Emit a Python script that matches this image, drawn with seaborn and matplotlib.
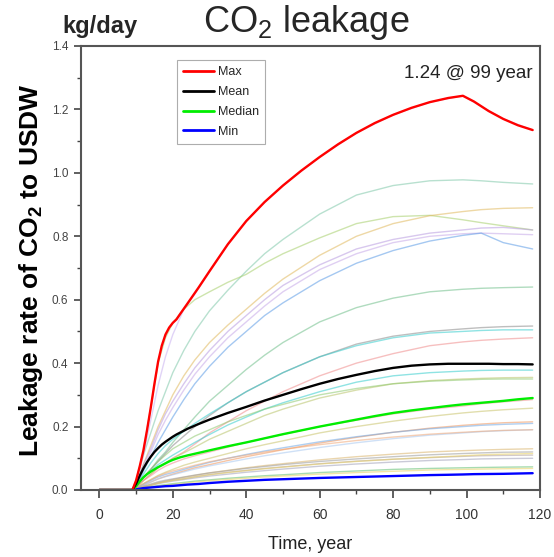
import numpy as np
import pandas as pd
import matplotlib
matplotlib.use("Agg")
import matplotlib.pyplot as plt
import seaborn as sns
from matplotlib.ticker import MultipleLocator, FormatStrFormatter

# ---------------- data ----------------
# summary statistics (dense time sampling)
time_main = [0, 9, 10, 11, 12, 13, 14, 15, 16, 17, 18, 19, 20, 21, 22, 24, 27, 30, 35, 40,
             45, 50, 55, 60, 65, 70, 75, 80, 85, 90, 95, 99, 102, 106, 110, 114, 118]

max_rate = [0, 0, 0.03, 0.075, 0.125, 0.19, 0.26, 0.335, 0.405, 0.455, 0.49, 0.512, 0.527, 0.538,
            0.555, 0.588, 0.638, 0.69, 0.775, 0.848, 0.908, 0.96, 1.007, 1.05, 1.09, 1.126,
            1.157, 1.183, 1.205, 1.223, 1.236, 1.243, 1.225, 1.195, 1.17, 1.15, 1.135]
mean_rate = [0, 0, 0.02, 0.045, 0.068, 0.088, 0.105, 0.12, 0.132, 0.143, 0.152, 0.16, 0.168, 0.175,
             0.181, 0.193, 0.208, 0.222, 0.243, 0.262, 0.282, 0.3, 0.318, 0.335, 0.35, 0.363,
             0.375, 0.385, 0.392, 0.396, 0.398, 0.398, 0.398, 0.398, 0.397, 0.397, 0.396]
median_rate = [0, 0, 0.012, 0.027, 0.04, 0.05, 0.058, 0.065, 0.072, 0.078, 0.084, 0.09, 0.095, 0.099,
               0.103, 0.109, 0.117, 0.125, 0.138, 0.15, 0.163, 0.176, 0.188, 0.2, 0.211, 0.222,
               0.233, 0.243, 0.251, 0.258, 0.265, 0.27, 0.273, 0.277, 0.281, 0.286, 0.29]
min_rate = [0, 0, 0.002, 0.004, 0.006, 0.007, 0.008, 0.009, 0.01, 0.011, 0.012, 0.0125, 0.013, 0.014,
            0.015, 0.017, 0.019, 0.022, 0.026, 0.029, 0.032, 0.034, 0.036, 0.038, 0.0395, 0.041,
            0.0425, 0.044, 0.0455, 0.047, 0.048, 0.049, 0.05, 0.0505, 0.051, 0.052, 0.053]

# individual realizations
time_runs = [0, 9, 10, 11, 12, 14, 16, 18, 20, 23, 26, 30, 35, 40, 45, 50, 60, 70, 80, 90, 99, 104, 110, 118]

run_01 = [0, 0, 0.03, 0.07, 0.11, 0.18, 0.25, 0.31, 0.37, 0.44, 0.50, 0.565, 0.63, 0.69, 0.745, 0.79, 0.87, 0.93, 0.96, 0.975, 0.978, 0.975, 0.97, 0.965]
run_02 = [0, 0, 0.03, 0.075, 0.125, 0.26, 0.40, 0.48, 0.527, 0.57, 0.60, 0.625, 0.655, 0.68, 0.715, 0.745, 0.795, 0.84, 0.862, 0.866, 0.852, 0.843, 0.833, 0.82]
run_03 = [0, 0, 0.02, 0.05, 0.08, 0.14, 0.20, 0.25, 0.30, 0.36, 0.41, 0.465, 0.52, 0.57, 0.62, 0.665, 0.74, 0.80, 0.84, 0.865, 0.878, 0.884, 0.888, 0.89]
run_04 = [0, 0, 0.02, 0.05, 0.08, 0.13, 0.19, 0.24, 0.28, 0.335, 0.385, 0.44, 0.50, 0.55, 0.60, 0.645, 0.71, 0.76, 0.79, 0.81, 0.82, 0.826, 0.828, 0.82]
run_05 = [0, 0, 0.02, 0.045, 0.07, 0.12, 0.175, 0.22, 0.26, 0.315, 0.365, 0.42, 0.48, 0.53, 0.58, 0.625, 0.695, 0.745, 0.78, 0.80, 0.808, 0.81, 0.808, 0.805]
run_06 = [0, 0, 0.015, 0.035, 0.06, 0.105, 0.15, 0.19, 0.23, 0.285, 0.335, 0.39, 0.45, 0.50, 0.55, 0.59, 0.66, 0.715, 0.755, 0.785, 0.803, 0.81, 0.78, 0.76]
run_07 = [0, 0, 0.01, 0.025, 0.04, 0.065, 0.095, 0.12, 0.15, 0.19, 0.23, 0.28, 0.33, 0.38, 0.425, 0.465, 0.53, 0.575, 0.605, 0.625, 0.633, 0.636, 0.638, 0.64]
run_08 = [0, 0, 0.01, 0.025, 0.04, 0.065, 0.09, 0.115, 0.14, 0.17, 0.20, 0.235, 0.275, 0.31, 0.34, 0.37, 0.42, 0.46, 0.485, 0.50, 0.508, 0.512, 0.515, 0.517]
run_09 = [0, 0, 0.012, 0.03, 0.05, 0.085, 0.115, 0.14, 0.16, 0.185, 0.21, 0.24, 0.275, 0.31, 0.34, 0.37, 0.42, 0.455, 0.48, 0.495, 0.50, 0.503, 0.505, 0.505]
run_10 = [0, 0, 0.008, 0.018, 0.03, 0.05, 0.07, 0.085, 0.10, 0.12, 0.145, 0.18, 0.215, 0.25, 0.28, 0.31, 0.36, 0.40, 0.43, 0.455, 0.467, 0.472, 0.476, 0.48]
run_11 = [0, 0, 0.01, 0.025, 0.04, 0.06, 0.08, 0.095, 0.11, 0.13, 0.15, 0.175, 0.205, 0.23, 0.255, 0.275, 0.31, 0.34, 0.36, 0.37, 0.375, 0.377, 0.378, 0.378]
run_12 = [0, 0, 0.008, 0.018, 0.03, 0.05, 0.07, 0.085, 0.10, 0.117, 0.135, 0.16, 0.185, 0.21, 0.235, 0.255, 0.29, 0.315, 0.335, 0.345, 0.35, 0.352, 0.354, 0.355]
run_13 = [0, 0, 0.01, 0.025, 0.04, 0.065, 0.09, 0.11, 0.13, 0.15, 0.17, 0.19, 0.215, 0.235, 0.255, 0.27, 0.30, 0.32, 0.335, 0.343, 0.347, 0.349, 0.35, 0.35]
run_14 = [0, 0, 0.01, 0.02, 0.03, 0.045, 0.062, 0.075, 0.085, 0.098, 0.108, 0.12, 0.135, 0.15, 0.163, 0.175, 0.20, 0.22, 0.24, 0.255, 0.265, 0.272, 0.278, 0.285]
run_15 = [0, 0, 0.006, 0.013, 0.02, 0.033, 0.046, 0.056, 0.065, 0.078, 0.088, 0.10, 0.115, 0.13, 0.143, 0.155, 0.18, 0.20, 0.217, 0.232, 0.243, 0.248, 0.253, 0.258]
run_16 = [0, 0, 0.005, 0.01, 0.015, 0.025, 0.035, 0.043, 0.05, 0.06, 0.07, 0.08, 0.093, 0.105, 0.116, 0.127, 0.148, 0.166, 0.182, 0.195, 0.204, 0.208, 0.212, 0.215]
run_17 = [0, 0, 0.006, 0.012, 0.018, 0.03, 0.041, 0.049, 0.055, 0.065, 0.075, 0.087, 0.10, 0.112, 0.123, 0.133, 0.152, 0.168, 0.182, 0.193, 0.20, 0.204, 0.207, 0.21]
run_18 = [0, 0, 0.005, 0.01, 0.015, 0.025, 0.035, 0.042, 0.048, 0.057, 0.066, 0.076, 0.087, 0.098, 0.108, 0.117, 0.134, 0.149, 0.162, 0.173, 0.18, 0.184, 0.187, 0.19]
run_19 = [0, 0, 0.006, 0.013, 0.02, 0.032, 0.044, 0.053, 0.06, 0.069, 0.078, 0.089, 0.10, 0.11, 0.12, 0.128, 0.143, 0.156, 0.167, 0.176, 0.182, 0.185, 0.188, 0.19]
run_20 = [0, 0, 0.003, 0.007, 0.01, 0.016, 0.023, 0.028, 0.033, 0.04, 0.046, 0.054, 0.062, 0.07, 0.077, 0.083, 0.095, 0.105, 0.113, 0.12, 0.124, 0.126, 0.128, 0.13]
run_21 = [0, 0, 0.004, 0.008, 0.012, 0.019, 0.026, 0.031, 0.035, 0.041, 0.047, 0.054, 0.061, 0.068, 0.074, 0.08, 0.09, 0.098, 0.105, 0.111, 0.115, 0.117, 0.119, 0.12]
run_22 = [0, 0, 0.003, 0.007, 0.01, 0.016, 0.022, 0.027, 0.031, 0.036, 0.042, 0.049, 0.056, 0.062, 0.068, 0.073, 0.083, 0.091, 0.097, 0.102, 0.106, 0.108, 0.109, 0.11]
run_23 = [0, 0, 0.003, 0.006, 0.009, 0.014, 0.02, 0.024, 0.028, 0.033, 0.038, 0.044, 0.05, 0.056, 0.061, 0.066, 0.075, 0.082, 0.088, 0.093, 0.096, 0.098, 0.099, 0.10]
run_24 = [0, 0, 0.003, 0.007, 0.01, 0.015, 0.021, 0.026, 0.03, 0.035, 0.041, 0.048, 0.055, 0.061, 0.067, 0.072, 0.082, 0.09, 0.097, 0.103, 0.108, 0.111, 0.113, 0.115]
run_25 = [0, 0, 0.002, 0.004, 0.006, 0.01, 0.014, 0.017, 0.02, 0.024, 0.028, 0.032, 0.037, 0.041, 0.045, 0.048, 0.055, 0.06, 0.065, 0.068, 0.07, 0.071, 0.072, 0.073]
run_26 = [0, 0, 0.002, 0.003, 0.005, 0.008, 0.012, 0.015, 0.017, 0.021, 0.025, 0.029, 0.033, 0.037, 0.041, 0.044, 0.05, 0.055, 0.059, 0.063, 0.065, 0.066, 0.067, 0.068]
run_27 = [0, 0, 0.025, 0.065, 0.11, 0.22, 0.33, 0.42, 0.49, 0.57, 0.618, 0.69, 0.775, 0.848, 0.908, 0.96, 1.05, 1.126, 1.183, 1.223, 1.243, 1.21, 1.17, 1.135]

runs = [run_01, run_02, run_03, run_04, run_05, run_06, run_07, run_08, run_09, run_10,
        run_11, run_12, run_13, run_14, run_15, run_16, run_17, run_18, run_19, run_20,
        run_21, run_22, run_23, run_24, run_25, run_26, run_27]

run_colors = ["#7fc8a9", "#a6cf6b", "#e0b85c", "#b89be0", "#c6a8e8",
              "#5b9be6", "#6fbf8a", "#8a8a8a", "#33cccc", "#f08c8c",
              "#33cccc", "#b8c46a", "#8fc96f", "#f08c8c", "#c9c36a",
              "#f0955a", "#6fa8e6", "#a8c8f0", "#f0a878", "#d9b36a",
              "#9a9a9a", "#b0a0a0", "#a0a0b8", "#e8d060", "#5fbf6f",
              "#e8d060", "#c8b0f0"]

series_labels = ["Max", "Mean", "Median", "Min"]
series_colors = {"Max": "#ff0000", "Mean": "#000000", "Median": "#00ee00", "Min": "#0000ff"}

# ---------------- figure ----------------
sns.set_theme(style="white")
plt.rcParams["font.family"] = ["Liberation Sans", "DejaVu Sans"]
plt.rcParams["mathtext.fontset"] = "custom"
plt.rcParams["mathtext.rm"] = "Liberation Sans"
plt.rcParams["mathtext.bf"] = "Liberation Sans:bold"
plt.rcParams["mathtext.default"] = "regular"

fig = plt.figure(figsize=(5.54, 5.57), dpi=100)
ax = fig.add_axes([81 / 554, 1 - 490 / 557, 459 / 554, 444 / 557])

bg = pd.DataFrame({
    "time": np.tile(time_runs, len(runs)),
    "rate": np.concatenate(runs),
    "run": np.repeat(np.arange(len(runs)), len(time_runs)),
})
sns.lineplot(data=bg, x="time", y="rate", hue="run", palette=run_colors,
             legend=False, linewidth=1.0, alpha=0.55, ax=ax, estimator=None, sort=False)

main = pd.DataFrame({
    "time": np.tile(time_main, 4),
    "rate": np.concatenate([max_rate, mean_rate, median_rate, min_rate]),
    "stat": np.repeat(series_labels, len(time_main)),
})
draw_order = series_labels[::-1]  # Min first so Max is drawn on top
sns.lineplot(data=main, x="time", y="rate", hue="stat", hue_order=draw_order,
             palette=series_colors, linewidth=1.7, ax=ax, estimator=None, sort=False)

ax.set_xlim(-5, 120)
ax.set_ylim(0, 1.4)
ax.xaxis.set_major_locator(MultipleLocator(20))
ax.xaxis.set_minor_locator(MultipleLocator(10))
ax.yaxis.set_major_locator(MultipleLocator(0.2))
ax.yaxis.set_minor_locator(MultipleLocator(0.1))
ax.yaxis.set_major_formatter(FormatStrFormatter("%.1f"))
ax.tick_params(axis="x", which="major", direction="out", length=6, width=1.2,
               color="#444444", labelsize=10, labelcolor="#333333", pad=7,
               bottom=True, top=False)
ax.tick_params(axis="y", which="major", direction="out", length=5, width=1.2,
               color="#444444", labelsize=8.5, labelcolor="#444444", pad=4,
               left=True, right=False)
ax.tick_params(axis="both", which="minor", direction="out", length=3, width=1.0,
               color="#444444", bottom=True, left=True, top=False, right=False)
for s in ax.spines.values():
    s.set_color("#555555")
    s.set_linewidth(1.5)
    s.set_visible(True)

ax.set_xlabel("Time, year", fontsize=13, color="#222222")
ax.xaxis.set_label_coords(0.50, -0.104)
ax.xaxis.label.set_va("top")
ax.set_ylabel("Leakage rate of CO$_\\mathbf{2}$ to USDW", fontsize=19, fontweight="bold",
              color="black")
ax.yaxis.set_label_coords(-0.108, 0.495)
ax.yaxis.label.set_va("center")

fig.text(62 / 554, 1 - 33 / 557, "kg/day", fontsize=17, fontweight="bold",
         ha="left", va="baseline")
fig.text(306 / 554, 1 - 32 / 557, "CO$_2$ leakage", fontsize=26,
         ha="center", va="baseline")
ax.text(0.985, 0.937, "1.24 @ 99 year", transform=ax.transAxes, fontsize=13.5,
        ha="right", va="center", color="#222222")

handles, labels = ax.get_legend_handles_labels()
hmap = dict(zip(labels, handles))
leg = ax.legend([hmap[l] for l in series_labels], series_labels,
                loc="upper left", bbox_to_anchor=(0.209, 0.968), fontsize=9,
                frameon=True, fancybox=False, edgecolor="#999999", handlelength=2.5,
                borderpad=0.5, labelspacing=0.62, handletextpad=0.25,
                borderaxespad=0)
leg.get_frame().set_linewidth(0.8)
for line in leg.get_lines():
    line.set_linewidth(2.0)

fig.savefig("out.png", dpi=100)
